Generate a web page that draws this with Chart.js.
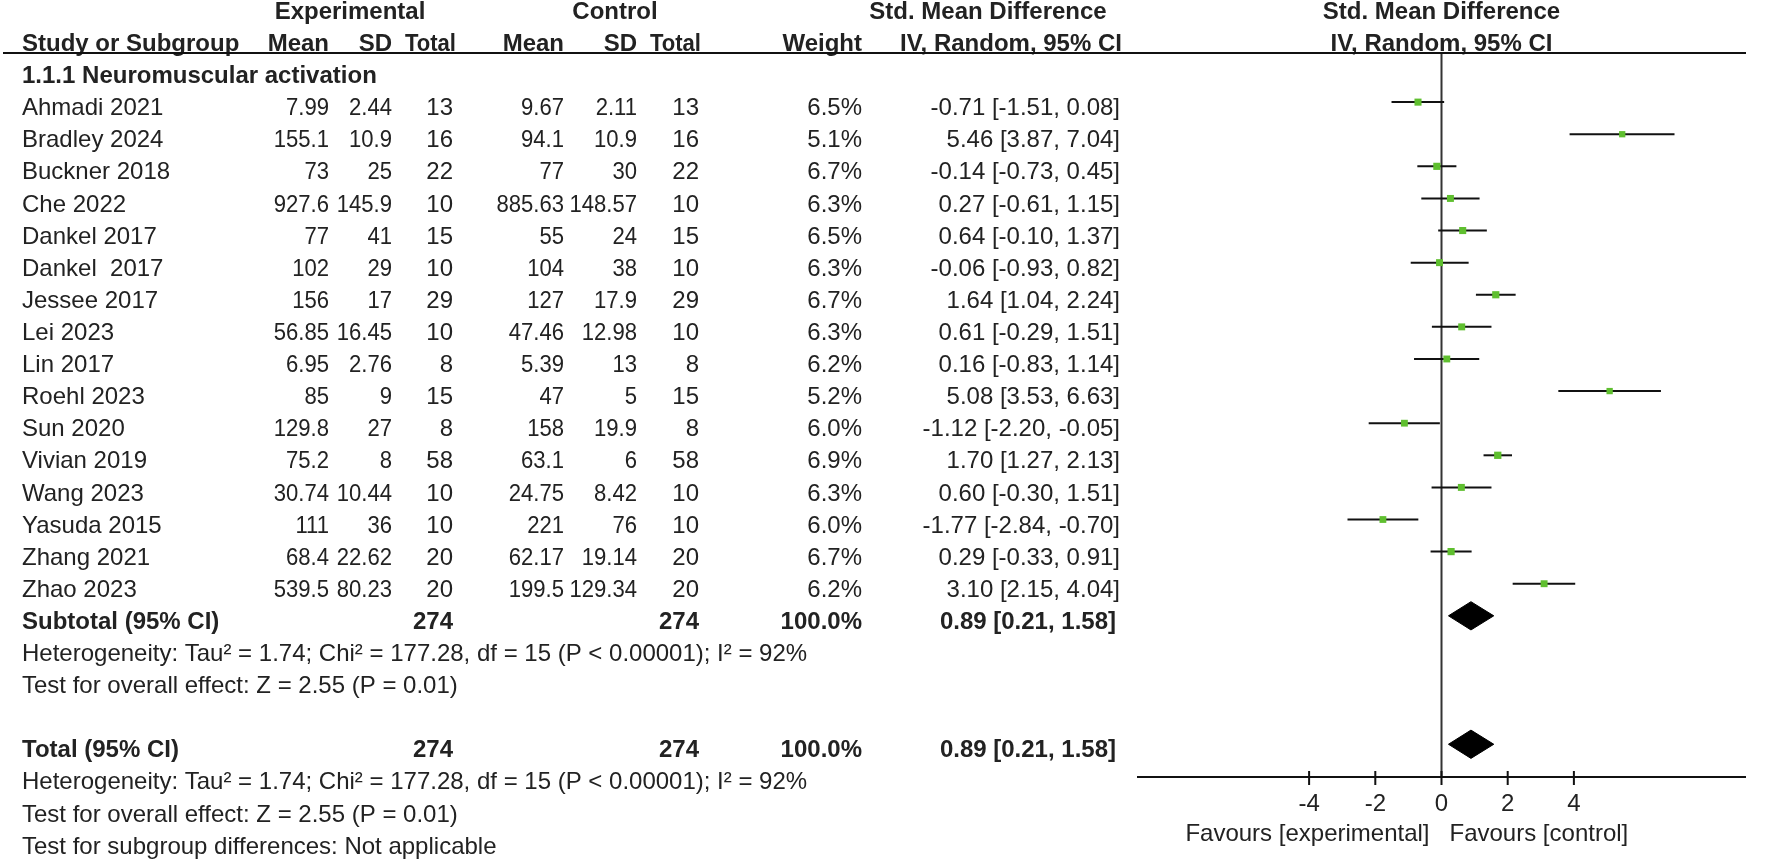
<!DOCTYPE html>
<html>
<head>
<meta charset="utf-8">
<script src="https://cdn.jsdelivr.net/npm/chart.js@4.4.1/dist/chart.umd.min.js"></script>
<style>
  html, body { margin: 0; padding: 0; background: #fff; }
  #wrap { width: 1772px; height: 862px; }
</style>
</head>
<body>
<div id="wrap"><canvas id="forest" width="1772" height="862"></canvas></div>
<script>
// --- Data ---
const studies = ['Ahmadi 2021', 'Bradley 2024', 'Buckner 2018', 'Che 2022', 'Dankel 2017', 'Dankel  2017',
  'Jessee 2017', 'Lei 2023', 'Lin 2017', 'Roehl 2023', 'Sun 2020', 'Vivian 2019', 'Wang 2023',
  'Yasuda 2015', 'Zhang 2021', 'Zhao 2023'];
const expMean = ['7.99', '155.1', '73', '927.6', '77', '102', '156', '56.85', '6.95', '85', '129.8', '75.2', '30.74', '111', '68.4', '539.5'];
const expSD = ['2.44', '10.9', '25', '145.9', '41', '29', '17', '16.45', '2.76', '9', '27', '8', '10.44', '36', '22.62', '80.23'];
const expN = [13, 16, 22, 10, 15, 10, 29, 10, 8, 15, 8, 58, 10, 10, 20, 20];
const ctlMean = ['9.67', '94.1', '77', '885.63', '55', '104', '127', '47.46', '5.39', '47', '158', '63.1', '24.75', '221', '62.17', '199.5'];
const ctlSD = ['2.11', '10.9', '30', '148.57', '24', '38', '17.9', '12.98', '13', '5', '19.9', '6', '8.42', '76', '19.14', '129.34'];
const ctlN = [13, 16, 22, 10, 15, 10, 29, 10, 8, 15, 8, 58, 10, 10, 20, 20];
const weights = [6.5, 5.1, 6.7, 6.3, 6.5, 6.3, 6.7, 6.3, 6.2, 5.2, 6.0, 6.9, 6.3, 6.0, 6.7, 6.2];
const smd = [-0.71, 5.46, -0.14, 0.27, 0.64, -0.06, 1.64, 0.61, 0.16, 5.08, -1.12, 1.70, 0.60, -1.77, 0.29, 3.10];
const ciLow = [-1.51, 3.87, -0.73, -0.61, -0.10, -0.93, 1.04, -0.29, -0.83, 3.53, -2.20, 1.27, -0.30, -2.84, -0.33, 2.15];
const ciHigh = [0.08, 7.04, 0.45, 1.15, 1.37, 0.82, 2.24, 1.51, 1.14, 6.63, -0.05, 2.13, 1.51, -0.70, 0.91, 4.04];
const pooled = [0.21, 0.89, 1.58]; // low, estimate, high
const xTicks = [-4, -2, 0, 2, 4];

// row slots (y scale units): studies 0..15, subtotal 16, total 20
const SUBTOTAL_ROW = 16;
const TOTAL_ROW = 20;
const Y_MIN = -1.53, Y_MAX = 21.02;
const X_RANGE = 9.2;

const FONT = '"Liberation Sans", Arial, sans-serif';
const TEXT = '#222222';
const GREEN = '#5fbf2f';

const fmt2 = v => v.toFixed(2);
const ciText = (e, l, h) => `${fmt2(e)} [${fmt2(l)}, ${fmt2(h)}]`;
const sum = a => a.reduce((s, v) => s + v, 0);

// --- Datasets (first in the list is painted on top) ---
const datasets = [];

// study markers, size by weight
datasets.push({
    data: smd.map((v, i) => ({ x: v, y: i })),
    showLine: false,
    pointStyle: 'rect',
    pointRadius: weights.map(w => 5 * Math.sqrt(w / 6.5)),
    backgroundColor: GREEN, borderColor: GREEN, borderWidth: 0
});

// diamonds for subtotal and total
[SUBTOTAL_ROW, TOTAL_ROW].forEach(r => {
    const h = 0.44;
    datasets.push({
        data: [
            { x: pooled[0], y: r }, { x: pooled[1], y: r - h },
            { x: pooled[2], y: r }, { x: pooled[1], y: r + h }, { x: pooled[0], y: r }
        ],
        showLine: true, fill: 'shape', tension: 0,
        backgroundColor: '#000', borderColor: '#000', borderWidth: 1, pointRadius: 0
    });
});

// confidence intervals
studies.forEach((s, i) => {
    datasets.push({
        data: [{ x: ciLow[i], y: i }, { x: ciHigh[i], y: i }],
        showLine: true, borderColor: '#111', borderWidth: 2, pointRadius: 0
    });
});

// zero line
datasets.push({
    data: [{ x: 0, y: Y_MIN }, { x: 0, y: Y_MAX }],
    showLine: true, borderColor: '#333', borderWidth: 2, pointRadius: 0
});

// --- Table + axis plugin ---
const tablePlugin = {
    id: 'forestTable',
    afterDraw(chart) {
        const ctx = chart.ctx;
        const xs = chart.scales.x, ys = chart.scales.y;
        const area = chart.chartArea;
        const rowY = r => ys.getPixelForValue(r) + 6.5;

        // squeeze < 1 narrows the text horizontally (number columns are tight)
        const put = (txt, x, r, align, bold, squeeze = 1) => {
            ctx.font = (bold ? 'bold ' : '') + '24px ' + FONT;
            ctx.textAlign = align;
            ctx.save();
            ctx.translate(x, rowY(r));
            ctx.scale(squeeze, 1);
            ctx.fillText(txt, 0, 0);
            ctx.restore();
        };

        ctx.save();
        ctx.fillStyle = TEXT;
        ctx.textBaseline = 'middle';

        // column right edges
        const C = { name: 22, em: 329, esd: 392, en: 453, cm: 564, csd: 637, cn: 699, w: 862, ci: 1120 };
        const SQ = 0.92;

        // header row 1
        put('Experimental', 350, -3, 'center', true);
        put('Control', 615, -3, 'center', true);
        put('Std. Mean Difference', 988, -3, 'center', true);
        put('Std. Mean Difference', (area.left + area.right) / 2, -3, 'center', true);

        // header row 2
        put('Study or Subgroup', C.name, -2, 'left', true);
        put('Mean', C.em, -2, 'right', true);
        put('SD', C.esd, -2, 'right', true);
        put('Total', C.en + 3, -2, 'right', true, 0.92);
        put('Mean', C.cm, -2, 'right', true);
        put('SD', C.csd, -2, 'right', true);
        put('Total', C.cn + 2, -2, 'right', true, 0.92);
        put('Weight', C.w, -2, 'right', true);
        put('IV, Random, 95% CI', 1011, -2, 'center', true);
        put('IV, Random, 95% CI', (area.left + area.right) / 2, -2, 'center', true);

        // header underline
        ctx.strokeStyle = '#111';
        ctx.lineWidth = 2;
        ctx.beginPath();
        ctx.moveTo(3, area.top);
        ctx.lineTo(area.right, area.top);
        ctx.stroke();

        put('1.1.1 Neuromuscular activation', C.name, -1, 'left', true);

        studies.forEach((s, i) => {
            put(s, C.name, i, 'left');
            put(expMean[i], C.em, i, 'right', false, SQ);
            put(expSD[i], C.esd, i, 'right', false, SQ);
            put(String(expN[i]), C.en, i, 'right');
            put(ctlMean[i], C.cm, i, 'right', false, SQ);
            put(ctlSD[i], C.csd, i, 'right', false, SQ);
            put(String(ctlN[i]), C.cn, i, 'right');
            put(weights[i].toFixed(1) + '%', C.w, i, 'right');
            put(ciText(smd[i], ciLow[i], ciHigh[i]), C.ci, i, 'right');
        });

        const totW = sum(weights) > 99 ? '100.0%' : sum(weights).toFixed(1) + '%';
        const het = 'Heterogeneity: Tau\u00B2 = 1.74; Chi\u00B2 = 177.28, df = 15 (P < 0.00001); I\u00B2 = 92%';
        const eff = 'Test for overall effect: Z = 2.55 (P = 0.01)';
        [[SUBTOTAL_ROW, 'Subtotal (95% CI)'], [TOTAL_ROW, 'Total (95% CI)']].forEach(([r, label]) => {
            put(label, C.name, r, 'left', true);
            put(String(sum(expN)), C.en, r, 'right', true);
            put(String(sum(ctlN)), C.cn, r, 'right', true);
            put(totW, C.w, r, 'right', true);
            put(ciText(pooled[1], pooled[0], pooled[2]), C.ci - 4, r, 'right', true);
            put(het, C.name, r + 1, 'left');
            put(eff, C.name, r + 2, 'left');
        });
        put('Test for subgroup differences: Not applicable', C.name, TOTAL_ROW + 3, 'left');

        // x axis
        const axY = area.bottom;
        ctx.strokeStyle = '#111';
        ctx.lineWidth = 2;
        ctx.beginPath();
        ctx.moveTo(area.left, axY);
        ctx.lineTo(area.right, axY);
        xTicks.forEach(t => {
            const px = xs.getPixelForValue(t);
            ctx.moveTo(px, axY - 6);
            ctx.lineTo(px, axY + 8);
        });
        ctx.stroke();

        ctx.font = '24px ' + FONT;
        ctx.textAlign = 'center';
        xTicks.forEach(t => ctx.fillText(String(t), xs.getPixelForValue(t), axY + 27));

        const zx = xs.getPixelForValue(0);
        ctx.textAlign = 'right';
        ctx.fillText('Favours [experimental]', zx - 12, axY + 57);
        ctx.textAlign = 'left';
        ctx.fillText('Favours [control]', zx + 8, axY + 57);

        ctx.restore();
    }
};

new Chart(document.getElementById('forest'), {
    type: 'scatter',
    data: { datasets },
    options: {
        responsive: false,
        animation: false,
        devicePixelRatio: 1,
        layout: { padding: { left: 1137, right: 26, top: 53, bottom: 85 } },
        plugins: { legend: { display: false }, tooltip: { enabled: false } },
        scales: {
            x: { type: 'linear', min: -X_RANGE, max: X_RANGE, display: false },
            y: { type: 'linear', min: Y_MIN, max: Y_MAX, reverse: true, display: false }
        }
    },
    plugins: [tablePlugin]
});
</script>
</body>
</html>
